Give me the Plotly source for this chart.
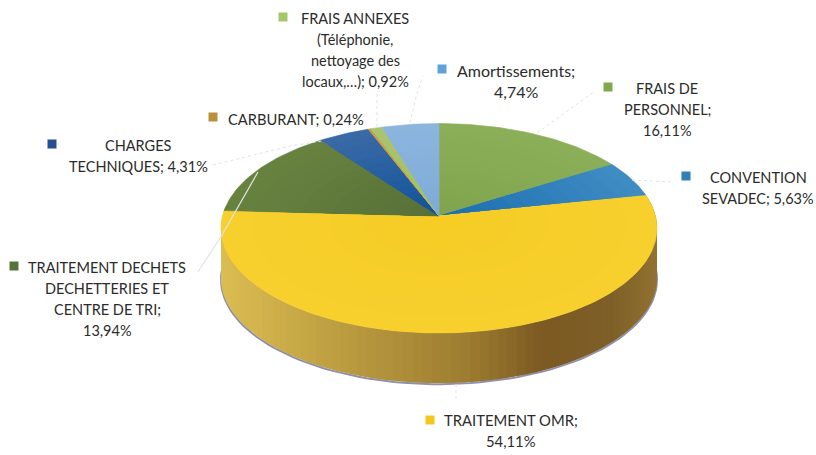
import numpy as np
import plotly.graph_objects as go

# slices, clockwise from 12 o'clock
CATEGORIES = [
    "FRAIS DE PERSONNEL",
    "CONVENTION SEVADEC",
    "TRAITEMENT OMR",
    "TRAITEMENT DECHETS DECHETTERIES ET CENTRE DE TRI",
    "CHARGES TECHNIQUES",
    "CARBURANT",
    "FRAIS ANNEXES (Téléphonie, nettoyage des locaux,…)",
    "Amortissements",
]
PERCENTS = [16.11, 5.63, 54.11, 13.94, 4.31, 0.24, 0.92, 4.74]
# rim colour, then colour at the centre of the pie
COLORS = ["#8bae58", "#3f8cc2", "#f7d02e", "#67823f", "#3a6aa6", "#c9a040", "#a9c46e", "#8cb5de"]
INNER_COLORS = ["#7fa44c", "#1a6cb0", "#f6cc24", "#566f38", "#0f5199", "#c9a040", "#a3c060", "#7eaad6"]
KEY_COLORS = ["#7fa84c", "#2f7fb8", "#f2c81e", "#55743a", "#24508f", "#bb8f3c", "#a5c768", "#5fa2d6"]

# wrapped label lines, {} takes the value
LABEL_LINES = [
    ["FRAIS DE", "PERSONNEL;", "{}"],
    ["CONVENTION", "SEVADEC; {}"],
    ["TRAITEMENT OMR;", "{}"],
    ["TRAITEMENT DECHETS", "DECHETTERIES ET", "CENTRE DE TRI;", "{}"],
    ["CHARGES", "TECHNIQUES; {}"],
    ["CARBURANT; {}"],
    ["FRAIS ANNEXES", "(Téléphonie,", "nettoyage des", "locaux,…); {}"],
    ["Amortissements;", "{}"],
]
LABEL_SIZES = [14.5, 14.5, 14.8, 14.5, 14.5, 14.7, 14.5, 16]
LABEL_CENTERS = [(667, 88), (758, 177), (511, 420), (107, 267), (138, 145), (296, 119), (355, 18), (516, 70)]
KEY_POS = [(608, 87), (686, 176), (430, 420), (14, 266), (52, 144), (213, 117), (283, 17), (442, 69)]
LEADERS = [
    [(537, 133), (595, 91)],
    [(632, 180), (672, 182)],
    [(456, 384), (456, 402)],
    [(258, 172), (222, 235), (198, 272)],
    [(213, 165), (290, 146), (322, 141)],
    [(377, 127), (377, 93)],
    [(410, 123), (417, 93), (423, 76)],
]

LINE_GAP = 21
CX, CY, RX, RY, TILT, DEPTH = 439, 216, 216.5, 103.3, 0.117, 50
WALL_STOPS = [(221, "#dcbd52"), (340, "#bc9d40"), (470, "#9c7c30"), (540, "#7c5a22"), (610, "#7e5f27"), (657, "#917230")]
TEXT_COLOR = "#2b2b2b"
SHADE_STEPS = 14


def project(theta):
    # disc seen in perspective: the far edge is squeezed, theta in radians from top
    u, v = np.sin(theta), np.cos(theta)
    s = 1 / (1 + TILT * v)
    return CX + RX * u * s, CY - RY * v * s


def to_rgb(hex_color):
    return [int(hex_color[i:i + 2], 16) for i in (1, 3, 5)]


def wall_color(x):
    xs = [p[0] for p in WALL_STOPS]
    rgb = [[to_rgb(p[1])[i] for p in WALL_STOPS] for i in range(3)]
    return "rgb({:.0f},{:.0f},{:.0f})".format(*[np.interp(x, xs, c) for c in rgb])


def mix(a, b, t):
    ca, cb = to_rgb(a), to_rgb(b)
    return "rgb({:.0f},{:.0f},{:.0f})".format(*[p + (q - p) * t for p, q in zip(ca, cb)])


def fill_trace(x, y, color, width=0.6):
    return go.Scatter(
        x=list(x), y=list(y), mode="lines", fill="toself", fillcolor=color,
        line={"color": color, "width": width}, hoverinfo="skip",
    )


fig = go.Figure()

# side wall, only the front part shows; each strip runs under the next so no seams
wall = np.linspace(np.radians(76), np.radians(276), 90)
wx, wy = project(wall)
fig.add_trace(go.Scatter(
    x=list(wx), y=list(wy + DEPTH + 1.2), mode="lines",
    line={"color": "#8f90aa", "width": 2}, hoverinfo="skip",
))
for i in range(len(wall) - 1):
    j = min(i + 2, len(wall) - 1)
    xs = [*wx[i:j + 1], *wx[i:j + 1][::-1]]
    ys = [*wy[i:j + 1], *(wy[i:j + 1] + DEPTH)[::-1]]
    fig.add_trace(fill_trace(xs, ys, wall_color((wx[i] + wx[i + 1]) / 2), width=0))

# top face, each slice painted from the rim inwards to get the shading
edges = np.radians(np.concatenate([[0], np.cumsum(PERCENTS)]) * 3.6)
for i, pct in enumerate(PERCENTS):
    n = max(3, int(pct * 3))
    ex, ey = project(np.linspace(edges[i], edges[i + 1], n))
    for k in range(SHADE_STEPS):
        t = k / SHADE_STEPS
        sx, sy = CX + (ex - CX) * (1 - t), CY + (ey - CY) * (1 - t)
        color = mix(COLORS[i], INNER_COLORS[i], t)
        fig.add_trace(fill_trace([CX, *sx, CX], [CY, *sy, CY], color, width=0.6 if k == 0 else 0))

# leader lines
for i, pts in enumerate(LEADERS):
    on_pie = i == 3
    fig.add_trace(go.Scatter(
        x=[p[0] for p in pts], y=[p[1] for p in pts], mode="lines",
        line={"color": "#dfe3e6", "width": 1.2 if on_pie else 1, "dash": "solid" if on_pie else "dot"},
        hoverinfo="skip",
    ))

# legend keys
fig.add_trace(go.Scatter(
    x=[p[0] for p in KEY_POS], y=[p[1] for p in KEY_POS], mode="markers",
    marker={"symbol": "square", "size": 9, "color": KEY_COLORS}, hoverinfo="skip",
))

# one annotation per line, the wrapped spacing is wider than plotly's own
for pct, lines, (lx, ly), size in zip(PERCENTS, LABEL_LINES, LABEL_CENTERS, LABEL_SIZES):
    value = f"{pct:.2f}%".replace(".", ",")
    for j, line in enumerate(lines):
        fig.add_annotation(
            x=lx, y=ly + j * LINE_GAP, text=line.format(value), showarrow=False,
            xanchor="center", yanchor="middle",
            font={"family": "Lato", "size": size, "color": TEXT_COLOR},
        )

fig.update_layout(
    width=816, height=455, margin={"l": 0, "r": 0, "t": 0, "b": 0},
    paper_bgcolor="white", plot_bgcolor="white", showlegend=False,
    xaxis={"range": [0, 816], "visible": False, "fixedrange": True},
    yaxis={"range": [455, 0], "visible": False, "fixedrange": True},
)
fig.write_html(
    "out.html",
    config={"displayModeBar": False},
    post_script="document.body.style.margin='0';document.body.style.overflow='hidden';",
)
